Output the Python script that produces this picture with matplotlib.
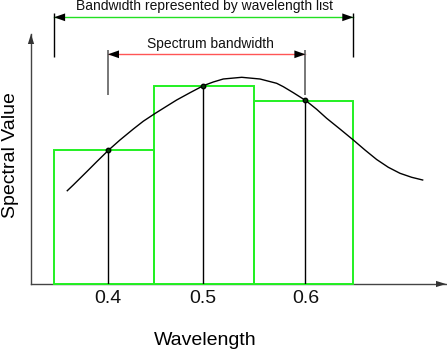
import matplotlib
matplotlib.use('Agg')
import matplotlib.pyplot as plt

plt.rcParams['font.family'] = ['Liberation Sans', 'DejaVu Sans']

# ---- data ----
bin_edges = [0.35, 0.45, 0.55, 0.65]
bin_values = [134.5, 198.5, 183.5]
sample_wavelengths = [0.404, 0.499, 0.602]
sample_values = [134.5, 198.5, 184.0]
tick_labels = ['0.4', '0.5', '0.6']
curve_x = [0.3633, 0.3693, 0.3828, 0.3928, 0.4048, 0.4161, 0.4295, 0.4395,
           0.4512, 0.4629, 0.4729, 0.4863, 0.4996, 0.5096, 0.5196, 0.5381,
           0.5564, 0.5731, 0.5798, 0.5898, 0.6025, 0.6132, 0.6232, 0.6365,
           0.6499, 0.6616, 0.6733, 0.6850, 0.6967, 0.7084, 0.7194]
curve_y = [93.3, 99.0, 112.3, 122.3, 134.0, 144.0, 155.0, 162.8,
           170.5, 177.8, 184.0, 191.3, 198.3, 202.0, 205.0, 206.7,
           205.0, 200.7, 197.3, 191.3, 183.3, 174.7, 165.7, 155.0,
           144.0, 134.0, 124.5, 116.7, 110.7, 106.7, 104.0]
list_band = [0.35, 0.65]
spectrum_band = [sample_wavelengths[0], sample_wavelengths[-1]]

fig = plt.figure(figsize=(4.47, 3.49), dpi=100)
ax = fig.add_axes([31/447, 65/349, 415/447, 250/349])
ax.set_xlim(0.32695, 0.74279)
ax.set_ylim(0, 250)

# bars (wavelength bins)
widths = [b - a for a, b in zip(bin_edges[:-1], bin_edges[1:])]
ax.bar(bin_edges[:-1], bin_values, width=widths, align='edge', fill=False,
       edgecolor='#22f022', linewidth=1.4, zorder=3, clip_on=False)

# sample lines and points
ax.vlines(sample_wavelengths, 0, sample_values, color='black', lw=1.0, zorder=4)
ax.plot(curve_x, curve_y, color='black', lw=1.0, zorder=5,
        solid_joinstyle='round')
ax.plot(sample_wavelengths, sample_values, 'o', color='black', ms=3.2,
        mfc='#0a3a0a', zorder=6)

# axes styling
for s in ['top', 'right']:
    ax.spines[s].set_visible(False)
for s in ['left', 'bottom']:
    ax.spines[s].set_color('#444444')
    ax.spines[s].set_linewidth(1.0)
ax.set_yticks([])
ax.set_xticks(sample_wavelengths, tick_labels)
ax.tick_params(axis='x', length=0, pad=4, labelsize=14, colors='#111111')

head = '-|>,head_length=0.8,head_width=0.25'
ax.annotate('', xy=(0, 1), xytext=(0, 0.9), xycoords='axes fraction',
            arrowprops=dict(arrowstyle=head, color='#333333', lw=0,
                            shrinkA=0, shrinkB=0, mutation_scale=9),
            annotation_clip=False)
ax.annotate('', xy=(1, 0), xytext=(0.9, 0), xycoords='axes fraction',
            arrowprops=dict(arrowstyle=head, color='#333333', lw=0,
                            shrinkA=0, shrinkB=0, mutation_scale=9),
            annotation_clip=False)

ax.set_xlabel('Wavelength', fontsize=14, va='baseline')
ax.xaxis.set_label_coords(0.419, -0.244)
ax.set_ylabel('Spectral Value', fontsize=14)
ax.yaxis.set_label_coords(-0.030, 0.516)

# bandwidth markers
y_list = 266.7
ax.plot(list_band, [y_list, y_list], color='#22e022', lw=1.0, clip_on=False)
ax.vlines(list_band, 227, 271, color='black', lw=1.0, clip_on=False)
y_spec = 229.7
ax.plot(spectrum_band, [y_spec, y_spec], color='#ff5555', lw=1.0, clip_on=False)
ax.vlines(spectrum_band, 189, 234, color='#777777', lw=1.4, clip_on=False)

def heads(x0, x1, y):
    d = (x1 - x0) * 0.05
    for tip, tail in [(x0, x0 + d), (x1, x1 - d)]:
        ax.annotate('', xy=(tip, y), xytext=(tail, y),
                    arrowprops=dict(arrowstyle='-|>,head_length=0.8,head_width=0.28',
                                    color='black', lw=0, shrinkA=0, shrinkB=0,
                                    mutation_scale=10),
                    annotation_clip=False)

heads(list_band[0], list_band[1], y_list)
heads(spectrum_band[0], spectrum_band[1], y_spec)

ax.text(0.5008, 274, 'Bandwidth represented by wavelength list', ha='center',
        va='baseline', fontsize=10, color='#111111')
ax.text(0.5063, 236.3, 'Spectrum bandwidth', ha='center', va='baseline',
        fontsize=10, color='#111111')

fig.savefig('out.png', dpi=100)
